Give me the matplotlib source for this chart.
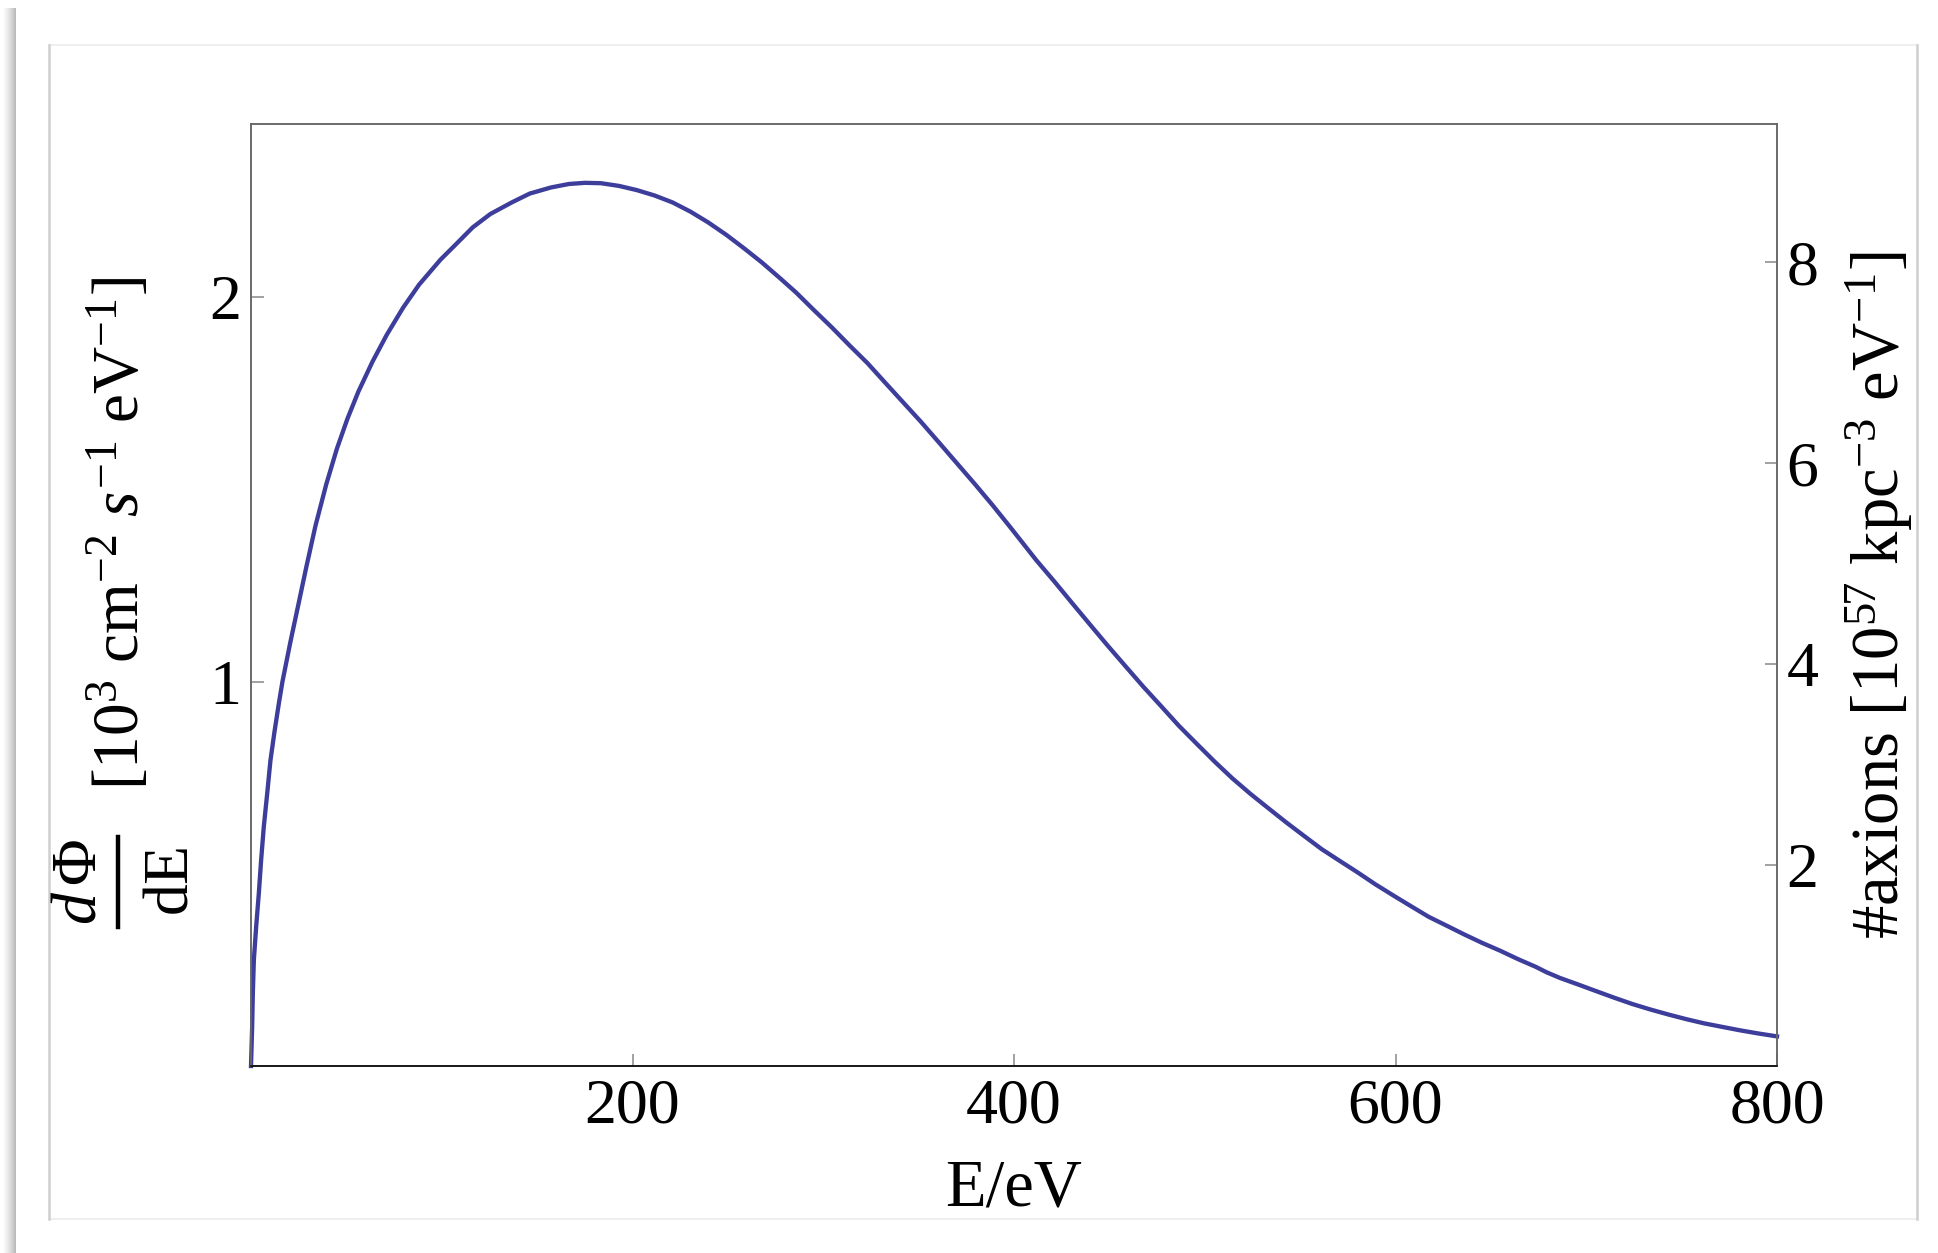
import numpy as np
import matplotlib
matplotlib.use("Agg")
import matplotlib.pyplot as plt
from matplotlib.lines import Line2D
from matplotlib.colors import LinearSegmentedColormap

# Mathematica-ish look: Times style text everywhere
plt.rcParams['font.family'] = ['Liberation Serif', 'DejaVu Serif']
plt.rcParams['mathtext.fontset'] = 'custom'
plt.rcParams['mathtext.rm'] = 'Liberation Serif'
plt.rcParams['mathtext.it'] = 'Liberation Serif:italic'
plt.rcParams['mathtext.bf'] = 'Liberation Serif:bold'

# spectrum: E [eV] vs dPhi/dE [10^3 cm^-2 s^-1 eV^-1]
energy = [0, 0.6, 0.96, 1.5, 2.7, 4.1, 5.3, 6.7, 8.5, 10.2, 12.3, 14.6, 16.5,
          20.7, 24.4, 29.1, 33.8, 39.4, 45, 50.6, 56.3, 63.7, 71.2, 79.7, 88.1,
          99.3, 106.8, 116.2, 125.5, 136.7, 146.1, 157.3, 166.7, 175.1, 183.5,
          192.9, 202.3, 211.6, 221, 230.4, 239.7, 249.1, 258.4, 267.8, 277.1,
          285.7, 295.1, 304.5, 313.8, 323.2, 332.5, 341.9, 351.3, 360.6, 370,
          379.4, 388.7, 398.1, 411.6, 421, 430.3, 439.7, 449, 458.4, 467.7,
          477.1, 486.4, 495.8, 505.1, 514.5, 523.9, 533.2, 542.6, 551.9, 561.3,
          570.6, 580, 589.3, 598.7, 608, 617.4, 626.8, 636.1, 645.5, 654.8,
          664.2, 673.5, 679.1, 686.2, 696.3, 705.6, 715, 724.3, 733.6, 743,
          752.3, 761.7, 771, 780.4, 789.7, 800]
flux = [0, 0.102, 0.189, 0.276, 0.362, 0.449, 0.535, 0.622, 0.709, 0.795, 0.869,
        0.943, 1.0, 1.104, 1.190, 1.300, 1.405, 1.512, 1.605, 1.684, 1.754,
        1.832, 1.902, 1.972, 2.032, 2.097, 2.134, 2.181, 2.216, 2.246, 2.269,
        2.285, 2.294, 2.297, 2.296, 2.289, 2.278, 2.264, 2.246, 2.222, 2.194,
        2.162, 2.127, 2.090, 2.050, 2.012, 1.966, 1.921, 1.874, 1.828, 1.777,
        1.726, 1.675, 1.622, 1.568, 1.514, 1.459, 1.401, 1.316, 1.261, 1.205,
        1.149, 1.094, 1.040, 0.987, 0.936, 0.885, 0.838, 0.792, 0.748, 0.708,
        0.671, 0.634, 0.599, 0.564, 0.534, 0.504, 0.473, 0.444, 0.416, 0.388,
        0.365, 0.342, 0.320, 0.300, 0.278, 0.258, 0.244, 0.229, 0.211, 0.194,
        0.177, 0.161, 0.147, 0.134, 0.122, 0.111, 0.102, 0.093, 0.085, 0.077]

xticks = [200, 400, 600, 800]
yticks_left = [1, 2]
yticks_right = [2, 4, 6, 8]

ylim_left = 2.45
right_per_left = 3.826   # right axis units per left axis unit

W, H = 1938, 1253


def px(x, y):
    # pixel position (from top left) -> figure fraction
    return x / W, 1 - y / H


fig = plt.figure(figsize=(W / 100, H / 100), dpi=100)
fc = fig.transFigure

# notebook cell frame around the plot
(x0, y1), (x1, y0) = px(49, 45), px(1917, 1219)
fig.add_artist(Line2D([x0, x1], [y1, y1], transform=fc, color='#efefef', lw=1.5))
fig.add_artist(Line2D([x0, x1], [y0, y0], transform=fc, color='#efefef', lw=1.5))
fig.add_artist(Line2D([x0, x0], [y0, y1], transform=fc, color='#cfcfcf', lw=1.8))
fig.add_artist(Line2D([x1, x1], [y0, y1], transform=fc, color='#cfcfcf', lw=1.8))

# grey shadow strip at the far left
sh = fig.add_axes([3 / W, 0, 13 / W, 1 - 8 / H])
grey = LinearSegmentedColormap.from_list('g', ['#ffffff', '#e2e2e2', '#b9b9b9'])
sh.imshow(np.linspace(0, 1, 60)[None, :], cmap=grey, aspect='auto')
sh.axis('off')

ax = fig.add_axes([251 / W, 1 - 1066 / H, 1526 / W, 942 / H])
ax2 = ax.twinx()

ax.plot(energy, flux, color='#3d3d9b', lw=3.1, solid_joinstyle='round', clip_on=False)

ax.set_xlim(0, 800)
ax.set_ylim(0, ylim_left)
ax2.set_ylim(0, ylim_left * right_per_left)

ax.set_xticks(xticks)
ax.set_yticks(yticks_left)
ax2.set_yticks(yticks_right)

fs = 46
tick_kw = dict(direction='in', length=9, width=1.1, color='#888888', labelsize=fs)
ax.tick_params(axis='x', pad=9, top=False, **tick_kw)
ax.tick_params(axis='y', pad=7, right=False, **tick_kw)
ax2.tick_params(axis='y', pad=7, **tick_kw)

for a in (ax, ax2):
    for side, sp in a.spines.items():
        sp.set_linewidth(1.1)
        sp.set_color('#111111' if side == 'bottom' else '#666666')

ax.set_xlabel('E/eV', fontsize=48, labelpad=16)
ax2.set_ylabel(r'#axions $[10^{57}\ \mathrm{kpc}^{-3}\ \mathrm{eV}^{-1}]$',
               fontsize=48, labelpad=18)

# left label: big display fraction followed by the units
rot = dict(rotation=90, rotation_mode='anchor', fontsize=46)
fig.text(*px(95, 882), r'$d\,\Phi$', ha='center', va='baseline', **rot)
fig.text(*px(187, 881), r'$\mathrm{dE}$', ha='center', va='baseline', **rot)
bx, by0 = px(118, 837)
_, by1 = px(118, 927)
fig.add_artist(Line2D([bx, bx], [by0, by1], transform=fc, color='black', lw=3.2))
fig.text(*px(138, 790), r'$[10^{3}\ \mathrm{cm}^{-2}\ s^{-1}\ \mathrm{eV}^{-1}]$',
         ha='left', va='baseline', fontsize=47, rotation=90, rotation_mode='anchor')

fig.savefig('out.png', dpi=100)
